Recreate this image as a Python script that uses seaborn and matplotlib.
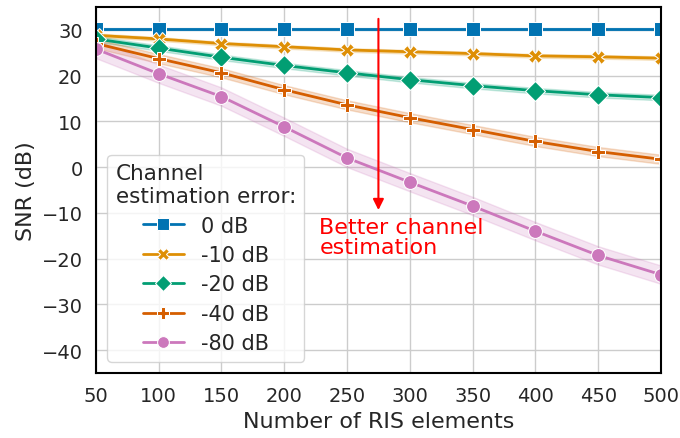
import matplotlib
matplotlib.use("Agg")
import matplotlib.pyplot as plt
import pandas as pd
import seaborn as sns

# %% data
ris_elements = [50, 100, 150, 200, 250, 300, 350, 400, 450, 500]
error_labels = ["0 dB", "-10 dB", "-20 dB", "-40 dB", "-80 dB"]
snr_0db = [30.2, 30.2, 30.2, 30.2, 30.2, 30.2, 30.2, 30.2, 30.2, 30.2]
snr_10db = [28.8, 28.0, 27.0, 26.3, 25.6, 25.2, 24.8, 24.3, 24.1, 23.8]
snr_20db = [28.0, 26.0, 24.0, 22.2, 20.6, 19.1, 17.8, 16.7, 15.8, 15.2]
snr_40db = [27.0, 23.7, 20.6, 16.9, 13.6, 10.8, 8.2, 5.6, 3.4, 1.7]
snr_80db = [25.8, 20.4, 15.4, 8.8, 2.0, -3.3, -8.5, -14.0, -19.3, -23.5]
# half width of the shaded band for each series
band_halfwidth = [0.2, 0.4, 0.6, 1.0, 2.0]

# %% long table: each point as low / centre / high so the band covers min..max
series = [snr_0db, snr_10db, snr_20db, snr_40db, snr_80db]
rows = []
for label, values, hw in zip(error_labels, series, band_halfwidth):
    for n, v in zip(ris_elements, values):
        for d in (-hw, 0.0, hw):
            rows.append({"N": n, "SNR": v + d, "err": label})
df = pd.DataFrame(rows)

# %% plot
sns.set_theme(style="whitegrid", font_scale=1.3)
plt.rcParams["axes.edgecolor"] = "black"
plt.rcParams["axes.linewidth"] = 1.5
plt.rcParams["font.family"] = ["DejaVu Sans"]

fig, ax = plt.subplots(figsize=(6.8, 4.39), dpi=100)
sns.lineplot(data=df, x="N", y="SNR", hue="err", style="err",
             hue_order=error_labels, style_order=error_labels,
             markers=["s", "X", "D", "P", "o"], dashes=False,
             palette="colorblind", errorbar=("pi", 100),
             markersize=10, linewidth=2, ax=ax)

ax.set_xlim(50, 500)
ax.set_ylim(-45, 35)
ax.set_xticks(ris_elements)
ax.set_yticks([30, 20, 10, 0, -10, -20, -30, -40])
ax.tick_params(labelsize=14)
ax.set_xlabel("Number of RIS elements", fontsize=16)
ax.set_ylabel("SNR (dB)", fontsize=16)

ax.annotate("", xy=(275, -10), xytext=(275, 33),
            arrowprops=dict(arrowstyle="-|>", color="red", lw=1.5,
                            mutation_scale=16))
ax.text(228, -10.8, "Better channel\nestimation", color="red",
        va="top", ha="left", fontsize=16, linespacing=1.0)

ax.legend(title="Channel\nestimation error:", loc="lower left",
          borderaxespad=0.55, fontsize=15, title_fontsize=15.5,
          handlelength=2, markerscale=0.85, labelspacing=0.45)

fig.subplots_adjust(left=0.141, right=0.972, top=0.982, bottom=0.148)
plt.savefig("out.png", dpi=100)
